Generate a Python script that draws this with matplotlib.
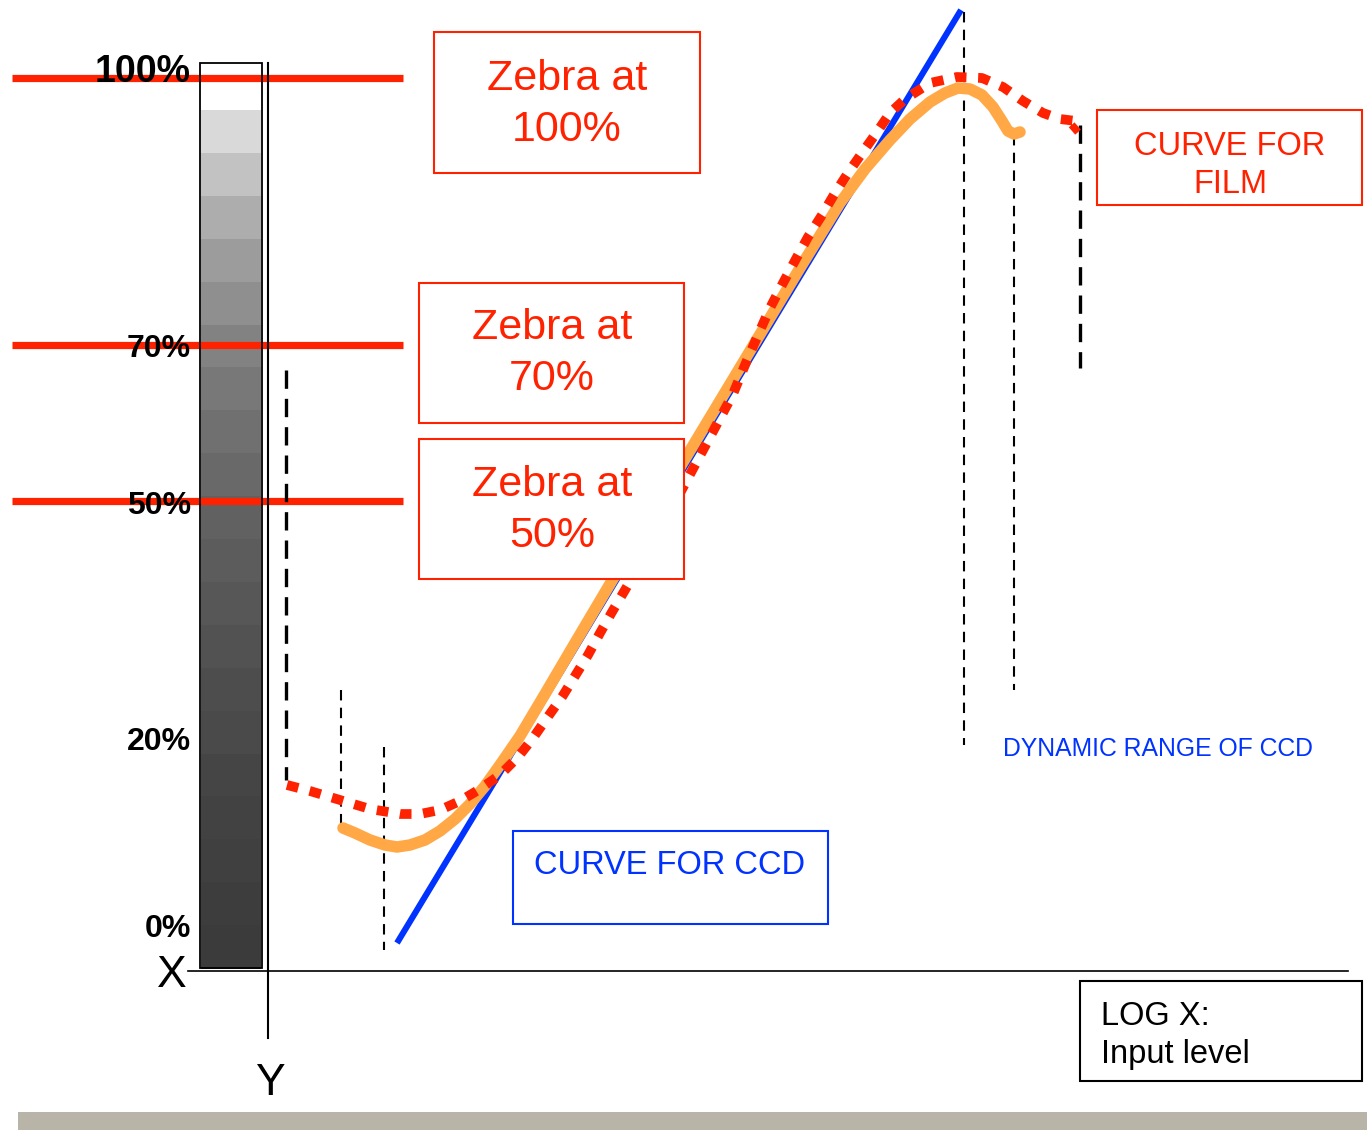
import matplotlib.pyplot as plt
from matplotlib.patches import Rectangle

# levels marked on the grey scale (label, y in pixels)
level_labels = ["100%", "70%", "50%", "20%", "0%"]
level_y = [82, 357, 514, 750, 937]
zebra_y = [78, 345, 501]

# grey steps of the scale, top to bottom
grey_steps = [0.85, 0.76, 0.68, 0.61, 0.56, 0.51, 0.47, 0.44, 0.41, 0.38,
              0.36, 0.34, 0.32, 0.30, 0.29, 0.27, 0.26, 0.25, 0.24, 0.23]

# CCD curve (orange)
ccd_x = [343, 355, 370, 385, 397, 410, 425, 440, 455, 470, 485, 500, 520, 545, 575, 610,
         650, 700, 750, 800, 840, 865, 890, 910, 930, 945, 958, 970, 982, 993, 1002,
         1008, 1014, 1020]
ccd_y = [828, 833, 840, 845, 847, 845, 840, 831, 819, 804, 786, 765, 736, 694, 643, 584,
         517, 434, 351, 268, 203, 169, 140, 119, 102, 93, 88, 89, 95, 107, 121,
         131, 134, 132]

# film curve (red dotted)
film_x = [287, 310, 340, 370, 400, 420, 440, 460, 480, 500, 518, 533, 547, 562, 575, 588,
          600, 612, 625, 650, 670, 687, 710, 733, 745, 758, 770, 783, 797, 808, 822, 835,
          848, 862, 877, 890, 905, 930, 957, 982, 1003, 1023, 1043, 1060, 1076, 1080, 1072]
film_y = [785, 791, 800, 809, 814, 814, 810, 801, 789, 775, 757, 738, 718, 697, 676, 655,
          633, 612, 590, 547, 512, 480, 437, 394, 365, 335, 308, 283, 257, 237, 215, 193,
          173, 153, 132, 113, 99, 83, 77, 78, 87, 101, 113, 119, 121, 124, 131]

# ideal straight response (blue)
ideal_x = [397, 961]
ideal_y = [943, 10]

# dashed guides: x, y top, y bottom, thick?
guide_x = [286, 341, 384, 964, 1014, 1080]
guide_top = [370, 690, 747, 12, 135, 125]
guide_bot = [780, 830, 950, 745, 690, 368]
guide_thick = [True, False, False, False, False, True]

RED = "#ff2200"
BLUE = "#0033ff"
FONT = "Liberation Sans"

fig = plt.figure(figsize=(13.67, 11.30), dpi=100)
ax = fig.add_axes([0, 0, 1, 1])
ax.set_xlim(0, 1367)
ax.set_ylim(1130, 0)
ax.axis("off")

# grey scale bar
top, bot = 110, 968
h = (bot - top) / len(grey_steps)
for i, g in enumerate(grey_steps):
    ax.add_patch(Rectangle((201, top + i * h), 60, h + 0.5, color=str(g), lw=0, zorder=1))
ax.add_patch(Rectangle((200, 63), 62, 905, fill=False, ec="black", lw=1.3, zorder=2))

# axes lines
ax.plot([268, 268], [63, 1038], color="black", lw=1.5, zorder=2)
ax.plot([188, 1348], [971, 971], color="black", lw=1.2, zorder=2)

# zebra lines
for y in zebra_y:
    ax.plot([12, 403], [y, y], color=RED, lw=5.2, solid_capstyle="butt", zorder=1.5)

for lab, y in zip(level_labels, level_y):
    ax.text(191, y, lab, ha="right", va="baseline", fontsize=27 if lab == "100%" else 23,
            fontweight="bold", family=FONT, zorder=3)

ax.text(172, 987, "X", ha="center", va="baseline", fontsize=32, family=FONT)
ax.text(270, 1095, "Y", ha="center", va="baseline", fontsize=32, family=FONT)

# dashed guides
for x, t, b, thick in zip(guide_x, guide_top, guide_bot, guide_thick):
    if thick:
        ax.plot([x, x], [t, b], color="black", lw=2.4, linestyle=(0, (5.5, 3)), zorder=2)
    else:
        ax.plot([x, x], [t, b], color="black", lw=1.5, linestyle=(0, (5, 3.5)), zorder=2)

# curves
ax.plot(ideal_x, ideal_y, color=BLUE, lw=4.4, solid_capstyle="butt", zorder=3)
ax.plot(ccd_x, ccd_y, color="#ffa845", lw=8.3, solid_capstyle="round",
        solid_joinstyle="round", zorder=4)
ax.plot(film_x, film_y, color=RED, lw=7.0, linestyle=(0, (1.2, 1.2)),
        dash_capstyle="butt", zorder=5)


def box(x0, y0, x1, y1, ec, lines, cx, baselines, size, color, ha="center"):
    ax.add_patch(Rectangle((x0, y0), x1 - x0, y1 - y0, fc="white", ec=ec, lw=1.5, zorder=6))
    for s, b in zip(lines, baselines):
        ax.text(cx, b, s, ha=ha, va="baseline", fontsize=size, color=color,
                family=FONT, zorder=7)


box(434, 32, 700, 173, RED, ["Zebra at", "100%"], 567, [90, 141], 31, RED)
box(419, 283, 684, 423, RED, ["Zebra at", "70%"], 552, [339, 390], 31, RED)
box(419, 439, 684, 579, RED, ["Zebra at", "50%"], 552, [496, 547], 31, RED)
box(1097, 110, 1362, 205, RED, ["CURVE FOR", "FILM"], 1230, [155, 193], 23.5, RED)
box(513, 831, 828, 924, BLUE, ["CURVE FOR CCD"], 670, [874], 23.5, BLUE)
box(1080, 981, 1362, 1081, "black", ["LOG X:", "Input level"], 1101, [1025, 1063], 23.5,
    "black", ha="left")

ax.text(1003, 756, "DYNAMIC RANGE OF CCD", ha="left", va="baseline", fontsize=17.8,
        color=BLUE, family=FONT)

# bottom band
ax.add_patch(Rectangle((18, 1112), 1349, 18, color="#b8b4a8", lw=0))

fig.savefig("out.png", dpi=100)
